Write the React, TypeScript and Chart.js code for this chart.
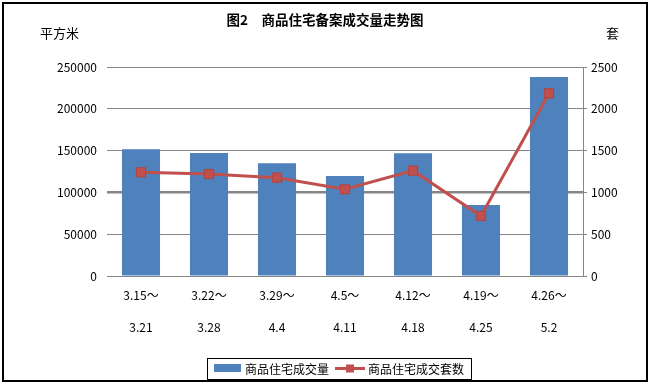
import React, { useEffect, useRef } from "react";
import { Chart, registerables } from "chart.js";

Chart.register(...registerables);

const categories: string[][] = [
  ["3.15～", "3.21"],
  ["3.22～", "3.28"],
  ["3.29～", "4.4"],
  ["4.5～", "4.11"],
  ["4.12～", "4.18"],
  ["4.19～", "4.25"],
  ["4.26～", "5.2"],
];
const areaValues = [151500, 147000, 134800, 119600, 146800, 84900, 238000];
const unitValues = [1240, 1220, 1176, 1037, 1260, 718, 2185];
const areaLabel = "商品住宅成交量";
const unitLabel = "商品住宅成交套数";
const titleText = "图2　商品住宅备案成交量走势图";
const leftUnit = "平方米";
const rightUnit = "套";

const FONT = "'Noto Sans CJK SC', 'Noto Sans', sans-serif";
const BLUE = "#4F81BD";
const RED = "#C0504D";
const GRID = "#868686";

const decor = {
  id: "decor",
  afterDraw(chart: any) {
    const ctx = chart.ctx as CanvasRenderingContext2D;
    ctx.save();
    // outer border
    ctx.strokeStyle = "#000";
    ctx.lineWidth = 2;
    ctx.strokeRect(3, 3, 644, 378);
    // unit labels
    ctx.fillStyle = "#000";
    ctx.font = `13px ${FONT}`;
    ctx.textBaseline = "middle";
    ctx.textAlign = "left";
    ctx.fillText(leftUnit, 40, 33);
    ctx.fillText(rightUnit, 606, 33);
    // legend box
    ctx.lineWidth = 1;
    ctx.strokeRect(207.5, 358.5, 264, 21);
    ctx.fillStyle = BLUE;
    ctx.fillRect(214, 364, 27, 8);
    ctx.strokeStyle = RED;
    ctx.lineWidth = 3;
    ctx.beginPath();
    ctx.moveTo(335, 368.5);
    ctx.lineTo(365, 368.5);
    ctx.stroke();
    ctx.fillStyle = RED;
    ctx.fillRect(346, 364.5, 8, 8);
    ctx.fillStyle = "#000";
    ctx.font = `12px ${FONT}`;
    ctx.fillText(areaLabel, 245, 369);
    ctx.fillText(unitLabel, 368, 369);
    ctx.restore();
  },
};

export default function App() {
  const ref = useRef<HTMLCanvasElement>(null);
  useEffect(() => {
    if (!ref.current) return;
    const chart = new Chart(ref.current, {
      type: "bar",
      data: {
        labels: categories,
        datasets: [
          {
            type: "line",
            label: unitLabel,
            data: unitValues,
            yAxisID: "y1",
            borderColor: RED,
            borderWidth: 3,
            pointStyle: "rect",
            pointRadius: 6.5,
            pointBackgroundColor: RED,
            pointBorderColor: "#B3423F",
            pointBorderWidth: 1,
            order: 1,
          } as any,
          {
            type: "bar",
            label: areaLabel,
            data: areaValues,
            yAxisID: "y",
            backgroundColor: BLUE,
            barPercentage: 0.56,
            categoryPercentage: 1,
            order: 2,
          },
        ],
      },
      options: {
        responsive: false,
        animation: false,
        devicePixelRatio: 1,
        layout: { padding: { left: 0, right: 0, top: 0, bottom: 38 } },
        plugins: {
          legend: { display: false },
          tooltip: { enabled: false },
          title: {
            display: true,
            text: titleText,
            color: "#000",
            font: { family: FONT, size: 13.5, weight: "bold", lineHeight: 1.2 },
            padding: { top: 12, bottom: 38.8 },
          },
        },
        scales: {
          x: {
            grid: { display: false, drawTicks: false },
            border: { display: false },
            ticks: {
              color: "#000",
              padding: 3,
              maxRotation: 0,
              autoSkip: false,
              font: { family: FONT, size: 12, lineHeight: 32 / 12 },
            },
            afterFit: (s: any) => {
              s.height = 70;
            },
          },
          y: {
            position: "left",
            min: 0,
            max: 250000,
            grid: {
              color: GRID,
              drawTicks: false,
              lineWidth: (c: any) => (c.tick && c.tick.value === 100000 ? 2.5 : 1),
            },
            border: { display: false },
            ticks: {
              stepSize: 50000,
              color: "#000",
              padding: 10,
              font: { family: FONT, size: 12 },
              callback: (v: any) => String(v),
            },
            afterFit: (s: any) => {
              s.width = 107;
            },
          },
          y1: {
            position: "right",
            min: 0,
            max: 2500,
            grid: { drawOnChartArea: false, color: GRID, tickLength: 4 },
            border: { display: true, color: GRID },
            ticks: {
              stepSize: 500,
              color: "#000",
              padding: 4,
              font: { family: FONT, size: 12 },
              callback: (v: any) => String(v),
            },
            afterFit: (s: any) => {
              s.width = 67;
            },
          },
        },
      },
      plugins: [decor],
    });
    return () => chart.destroy();
  }, []);
  return (
    <div style={{ position: "absolute", left: 0, top: 0, width: 650, height: 384, background: "#fff" }}>
      <canvas ref={ref} width={650} height={384} />
    </div>
  );
}
